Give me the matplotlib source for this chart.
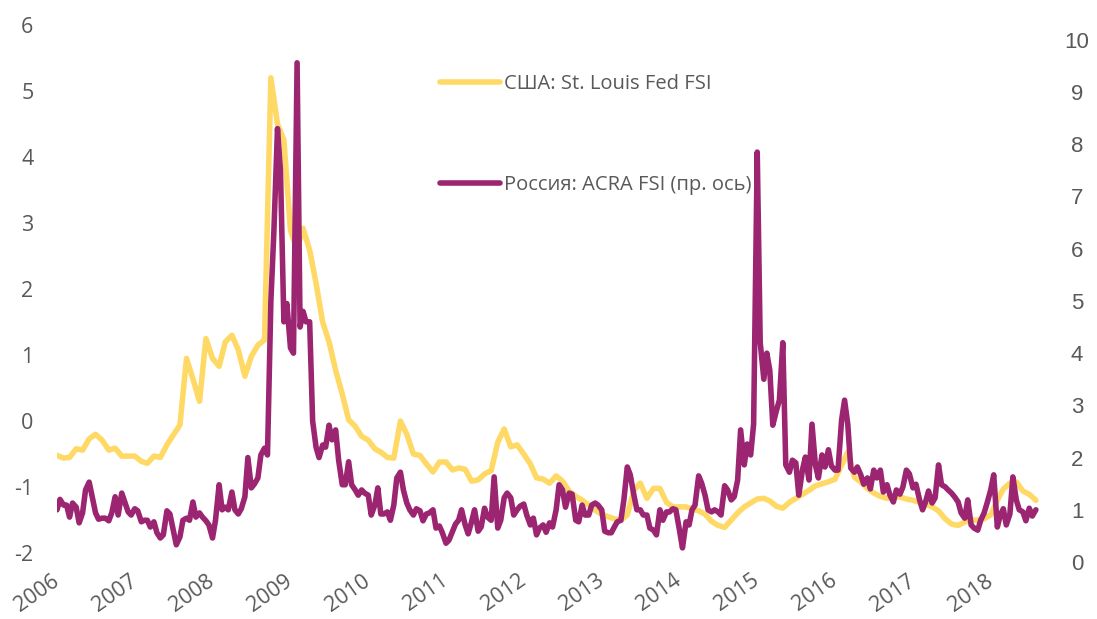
import numpy as np
import pandas as pd
import matplotlib
matplotlib.use('Agg')
import matplotlib.pyplot as plt
import matplotlib.dates as mdates

# US St. Louis Fed FSI, monthly (left axis)
us_dates = pd.date_range('2006-01-01', periods=152, freq='MS')
us_fsi = [
    -0.52, -0.56, -0.55, -0.42, -0.44, -0.27, -0.20, -0.29, -0.44, -0.41, -0.53, -0.53,
    -0.53, -0.61, -0.64, -0.53, -0.55, -0.36, -0.21, -0.06, 0.95, 0.64, 0.30, 1.25,
    0.95, 0.83, 1.20, 1.30, 1.08, 0.68, 0.98, 1.15, 1.23, 5.20, 4.50, 4.26,
    2.89, 2.59, 2.92, 2.59, 2.09, 1.50, 1.20, 0.77, 0.41, 0.02, -0.08, -0.23,
    -0.29, -0.42, -0.47, -0.55, -0.56, 0.00, -0.20, -0.50, -0.52, -0.65, -0.77, -0.62,
    -0.62, -0.74, -0.71, -0.73, -0.91, -0.89, -0.80, -0.75, -0.32, -0.12, -0.39, -0.36,
    -0.50, -0.65, -0.86, -0.88, -0.94, -0.83, -0.91, -1.06, -1.14, -1.20, -1.27, -1.35,
    -1.41, -1.45, -1.48, -1.50, -1.42, -1.05, -0.94, -1.17, -1.02, -1.02, -1.23, -1.30,
    -1.30, -1.30, -1.33, -1.36, -1.41, -1.52, -1.58, -1.61, -1.50, -1.39, -1.30, -1.24,
    -1.18, -1.17, -1.21, -1.29, -1.32, -1.23, -1.17, -1.11, -1.05, -0.98, -0.95, -0.92,
    -0.88, -0.67, -0.47, -0.85, -0.92, -1.02, -1.09, -1.14, -1.17, -1.15, -1.15, -1.18,
    -1.20, -1.23, -1.26, -1.30, -1.36, -1.48, -1.56, -1.58, -1.53, -1.50, -1.50, -1.48,
    -1.42, -1.20, -1.03, -0.94, -0.92, -1.06, -1.11, -1.20,
]

# Russia ACRA FSI, semi-monthly (right axis)
ru_dates = pd.date_range('2006-01-01', periods=303, freq='SMS')
ru_fsi = [
    1.00, 1.20, 1.09, 1.09, 0.86, 1.13, 1.05, 0.75, 0.94, 1.38,
    1.53, 1.25, 0.94, 0.82, 0.84, 0.84, 0.79, 0.94, 1.25, 0.90,
    1.32, 1.15, 0.96, 0.90, 1.02, 0.98, 0.77, 0.80, 0.80, 0.67,
    0.77, 0.56, 0.46, 0.52, 0.98, 0.92, 0.61, 0.33, 0.48, 0.80,
    0.84, 0.80, 1.15, 0.86, 0.94, 0.86, 0.79, 0.71, 0.46, 0.80,
    1.48, 1.00, 1.05, 1.00, 1.34, 1.00, 0.92, 1.02, 1.25, 2.00,
    1.42, 1.49, 1.61, 2.05, 2.18, 2.05, 5.00, 6.32, 8.30, 7.50,
    4.60, 4.95, 4.10, 4.00, 9.56, 4.50, 4.80, 4.60, 4.60, 2.70,
    2.20, 2.00, 2.24, 2.20, 2.62, 2.34, 2.53, 1.95, 1.48, 1.48,
    1.92, 1.48, 1.38, 1.28, 1.38, 1.32, 1.28, 0.90, 1.09, 1.42,
    0.92, 0.92, 0.96, 0.80, 1.09, 1.61, 1.72, 1.38, 1.13, 1.00,
    0.90, 1.02, 0.98, 0.79, 0.92, 0.94, 1.00, 0.65, 0.69, 0.56,
    0.36, 0.42, 0.59, 0.73, 0.80, 1.00, 0.71, 0.54, 0.77, 1.00,
    0.59, 0.67, 1.03, 0.86, 0.80, 1.63, 0.65, 0.80, 1.23, 1.32,
    1.23, 0.90, 1.00, 1.07, 1.11, 0.90, 0.71, 0.84, 0.52, 0.65,
    0.71, 0.57, 0.75, 0.67, 1.00, 1.48, 1.38, 1.05, 1.32, 1.30,
    0.80, 0.77, 1.09, 0.90, 0.90, 1.09, 1.13, 1.09, 1.00, 0.59,
    0.56, 0.56, 0.67, 0.77, 0.80, 1.19, 1.82, 1.67, 1.28, 1.00,
    1.00, 0.90, 0.90, 0.65, 0.61, 0.52, 1.00, 0.80, 0.96, 0.96,
    1.02, 1.00, 0.61, 0.27, 0.77, 0.71, 1.00, 1.09, 1.65, 1.51,
    1.28, 1.00, 0.96, 1.00, 0.96, 0.90, 1.46, 1.38, 1.19, 1.25,
    1.57, 2.53, 1.86, 2.26, 2.05, 2.64, 7.85, 4.20, 3.50, 4.00,
    3.67, 2.62, 2.90, 3.10, 4.20, 1.86, 1.72, 1.95, 1.90, 1.28,
    1.76, 2.01, 1.57, 2.64, 1.86, 1.61, 2.05, 1.82, 2.15, 1.84,
    1.76, 1.76, 2.72, 3.10, 2.64, 1.80, 1.72, 1.82, 1.67, 1.49,
    1.61, 1.40, 1.76, 1.61, 1.76, 1.34, 1.48, 1.28, 1.15, 1.38,
    1.30, 1.44, 1.76, 1.69, 1.42, 1.49, 1.19, 1.00, 1.15, 1.36,
    1.13, 1.23, 1.86, 1.48, 1.44, 1.38, 1.32, 1.25, 1.15, 0.94,
    0.84, 1.19, 0.71, 0.65, 0.61, 0.80, 0.94, 1.13, 1.38, 1.67,
    0.67, 0.90, 1.02, 0.71, 0.92, 1.63, 1.19, 1.00, 0.96, 0.79,
    1.03, 0.88, 1.00,
]

years = list(range(2006, 2019))
left_ticks = list(range(-2, 7))
right_ticks = list(range(0, 11))

US_COLOR = '#FFD966'
RU_COLOR = '#9B2571'
TEXT_COLOR = '#595959'

plt.rcParams['font.family'] = ['Open Sans', 'DejaVu Sans']

fig = plt.figure(figsize=(10.97, 6.19), dpi=100)
ax = fig.add_axes([57 / 1097, 1 - 565 / 619, (1041 - 57) / 1097, 545 / 619])
ax2 = ax.twinx()

l1, = ax.plot(us_dates, us_fsi, color=US_COLOR, lw=4.0,
              solid_capstyle='round', solid_joinstyle='round',
              label='США: St. Louis Fed FSI')
l2, = ax2.plot(ru_dates, ru_fsi, color=RU_COLOR, lw=4.0,
               solid_capstyle='round', solid_joinstyle='round',
               label='Россия: ACRA FSI (пр. ось)')

ax.set_xlim(pd.Timestamp('2006-01-01'), pd.Timestamp('2018-08-25'))
ax.set_ylim(-2.18, 6.076)
ax2.set_ylim(-0.057, 10.38)

ax.set_yticks(left_ticks)
ax.set_yticklabels([str(t) for t in left_ticks])
ax2.set_yticks(right_ticks)
ax2.set_yticklabels([str(t) for t in right_ticks], family='Liberation Sans', ha='center')

ax.set_xticks([pd.Timestamp(f'{y}-01-01') for y in years])
ax.set_xticklabels([str(y) for y in years], rotation=35, ha='right', va='center',
                   rotation_mode='anchor')

for a in (ax, ax2):
    for s in a.spines.values():
        s.set_visible(False)
    a.tick_params(length=0, labelsize=15.5, labelcolor=TEXT_COLOR)
ax2.tick_params(labelsize=16)
ax.tick_params(axis='y', pad=17)
ax.tick_params(axis='x', pad=10)
ax2.tick_params(axis='y', pad=26)

fig.legend(handles=[l1, l2], loc='upper left', bbox_to_anchor=(440 / 1097, 1 - 74 / 619),
           frameon=False, fontsize=14.5, labelcolor=TEXT_COLOR, handlelength=3.0,
           handletextpad=0.2, labelspacing=4.0, borderpad=0, borderaxespad=0)

fig.savefig('out.png', dpi=100)
